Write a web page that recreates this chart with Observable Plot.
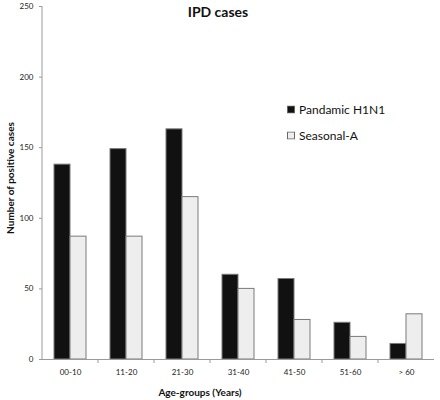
<!DOCTYPE html>
<html><head><meta charset="utf-8">
<script src="https://cdn.jsdelivr.net/npm/d3@7"></script>
<script src="https://cdn.jsdelivr.net/npm/@observablehq/plot@0.6"></script>
<style>
body{margin:0;background:#fff;}
#wrap{position:relative;width:440px;height:400px;font-family:"Lato",sans-serif;color:#111;}
.abs{position:absolute;white-space:nowrap;}
.title{left:0;width:436px;top:3px;text-align:center;font-weight:bold;font-size:14px;}
.ylab{left:10px;top:178px;font-weight:bold;font-size:10px;transform:translate(-50%,-50%) rotate(-90deg);}
.xlab{left:200px;top:392px;font-weight:bold;font-size:10px;transform:translate(-50%,-50%);}
.leg{left:287px;font-size:12px;display:flex;align-items:center;transform:translateY(-50%);}
.leg svg{margin-right:4px;}
</style></head><body><div id="wrap"></div>
<script>
const ageGroups = ["00-10","11-20","21-30","31-40","41-50","51-60","> 60"];
const seriesNames = ["Pandamic H1N1","Seasonal-A"];
const pandemic = [138,149,163,60,57,26,11];
const seasonal = [87,87,115,50,28,16,32];
const yTicks = [0,50,100,150,200,250];
const seriesColors = ["#111111","#eeeeee"];
const titleText = "IPD cases";
const yLabel = "Number of positive cases";
const xLabel = "Age-groups (Years)";

const data = ageGroups.flatMap((a, i) => [
  {age: a, series: seriesNames[0], value: pandemic[i]},
  {age: a, series: seriesNames[1], value: seasonal[i]}
]);

const chart = Plot.plot({
  width: 440, height: 400,
  marginLeft: 40, marginRight: 5, marginTop: 6, marginBottom: 41,
  style: {fontFamily: "Lato, sans-serif", fontSize: "8px", color: "#222", background: "white"},
  fx: {domain: ageGroups, paddingInner: 0, paddingOuter: 0, label: null, axis: "bottom", tickSize: 0, tickPadding: 10},
  x: {domain: seriesNames, paddingInner: 0, paddingOuter: 0.72, axis: null},
  y: {domain: [0, 250], ticks: yTicks, tickSize: 3, tickPadding: 6, label: null, axis: "left"},
  color: {domain: seriesNames, range: seriesColors},
  marks: [
    Plot.barY(data, {fx: "age", x: "series", y: "value", fill: "series", stroke: "#7a7a7a", strokeWidth: 1}),
    Plot.ruleY([0], {stroke: "#9a9a9a"})
  ]
});

const wrap = document.getElementById("wrap");
wrap.appendChild(chart);

const svg = d3.select(chart);
const fx = chart.scale("fx");
const y = chart.scale("y");
const y0 = y.apply(0);
const yTop = y.apply(yTicks[yTicks.length - 1]);
const xLeft = fx.apply(ageGroups[0]);

// grey axis ticks
svg.selectAll('[aria-label="y-axis tick"] path, [aria-label="y-axis tick"] line').attr("stroke", "#9a9a9a");

// y axis line
svg.append("line").attr("x1", xLeft).attr("x2", xLeft).attr("y1", y0).attr("y2", yTop)
  .attr("stroke", "#9a9a9a");

// category boundary ticks on the x axis
ageGroups.slice(1).forEach(a => {
  const xp = fx.apply(a);
  svg.append("line").attr("x1", xp).attr("x2", xp).attr("y1", y0).attr("y2", y0 + 4)
    .attr("stroke", "#9a9a9a");
});

function addDiv(cls, text) {
  const d = document.createElement("div");
  d.className = "abs " + cls;
  d.textContent = text;
  wrap.appendChild(d);
  return d;
}
addDiv("title", titleText);
addDiv("ylab", yLabel);
addDiv("xlab", xLabel);

const color = chart.scale("color");
const legTops = [109, 135];
seriesNames.forEach((s, i) => {
  const d = document.createElement("div");
  d.className = "abs leg";
  d.style.top = legTops[i] + "px";
  d.innerHTML = `<svg width="8" height="8"><rect x="0.5" y="0.5" width="7" height="7" fill="${color.apply(s)}" stroke="#666"/></svg><span>${s}</span>`;
  wrap.appendChild(d);
});
</script>
</body></html>
